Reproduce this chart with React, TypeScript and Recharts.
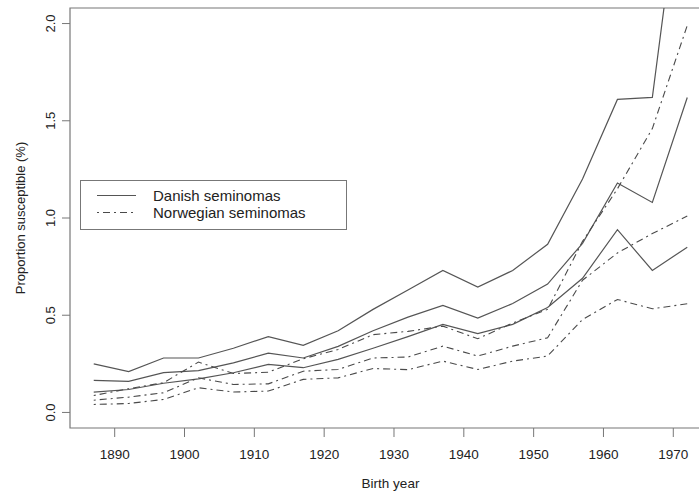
import React from "react";
import {
  LineChart,
  Line,
  XAxis,
  YAxis,
  ReferenceArea,
  Legend,
} from "recharts";

const years = [
  1887, 1892, 1897, 1902, 1907, 1912, 1917, 1922, 1927, 1932, 1937, 1942,
  1947, 1952, 1957, 1962, 1967, 1972,
];

// Danish seminomas: estimate with lower / upper bounds
const danishUpper = [
  0.25, 0.21, 0.28, 0.28, 0.33, 0.39, 0.345, 0.42, 0.53, 0.63, 0.73, 0.645,
  0.73, 0.865, 1.2, 1.61, 1.62, 3.0,
];
const danishMid = [
  0.165, 0.16, 0.205, 0.215, 0.255, 0.305, 0.28, 0.34, 0.42, 0.49, 0.55,
  0.485, 0.56, 0.66, 0.87, 1.18, 1.08, 1.62,
];
const danishLower = [
  0.105, 0.118, 0.15, 0.173, 0.204, 0.247, 0.23, 0.273, 0.33, 0.39, 0.453,
  0.405, 0.453, 0.54, 0.69, 0.94, 0.73, 0.85,
];

// Norwegian seminomas
const norUpper = [
  0.087, 0.122, 0.153, 0.259, 0.2, 0.207, 0.276, 0.324, 0.4, 0.417, 0.444,
  0.379, 0.46, 0.53, 0.88, 1.15, 1.46, 1.99,
];
const norMid = [
  0.063, 0.079, 0.101, 0.178, 0.144, 0.147, 0.212, 0.221, 0.28, 0.285, 0.341,
  0.29, 0.341, 0.384, 0.68, 0.82, 0.92, 1.01,
];
const norLower = [
  0.041, 0.046, 0.067, 0.127, 0.105, 0.11, 0.17, 0.178, 0.226, 0.22, 0.264,
  0.221, 0.264, 0.29, 0.478, 0.581, 0.533, 0.559,
];

const xTicks = [1890, 1900, 1910, 1920, 1930, 1940, 1950, 1960, 1970];
const yTicks = [0, 0.5, 1, 1.5, 2];

const X_DOMAIN: [number, number] = [1883.6, 1975.4];
const Y_DOMAIN: [number, number] = [-0.08, 2.08];

const data = years.map((year, i) => ({
  year,
  dUp: danishUpper[i],
  dMid: danishMid[i],
  dLow: danishLower[i],
  nUp: norUpper[i],
  nMid: norMid[i],
  nLow: norLower[i],
}));

const FONT = "'Liberation Sans', Arial, Helvetica, sans-serif";
const TEXT = "#222";
const FRAME = "#777";
const SOLID = "#555";
const DASHED = "#4a4a4a";
const DOTDASH = "2 4 7 4";

const legendDash: Record<string, string | undefined> = {
  "Danish seminomas": undefined,
  "Norwegian seminomas": DOTDASH,
};

function YTick(props: any) {
  const { x, y, payload } = props;
  const cx = x - 5;
  return (
    <text
      x={cx}
      y={y}
      transform={`rotate(-90 ${cx} ${y})`}
      textAnchor="middle"
      fontSize={13}
      fontFamily={FONT}
      fill={TEXT}
    >
      {Number(payload.value).toFixed(1)}
    </text>
  );
}

function YTitle(props: any) {
  const vb = props.viewBox || { x: 0, y: 8, height: 420 };
  const cx = vb.x + 24.5;
  const cy = vb.y + vb.height / 2;
  return (
    <text
      x={cx}
      y={cy}
      transform={`rotate(-90 ${cx} ${cy})`}
      textAnchor="middle"
      fontSize={13}
      fontFamily={FONT}
      fill={TEXT}
    >
      Proportion susceptible (%)
    </text>
  );
}

function LegendBox(props: any) {
  const items = (props.payload || []).filter((p: any) => p.type !== "none");
  return (
    <svg width={268} height={51} style={{ display: "block" }}>
      <rect x={0.5} y={0.5} width={266} height={49} fill="#fff" stroke={FRAME} />
      {items.map((item: any, i: number) => {
        const y = 15.5 + i * 17;
        return (
          <g key={item.value}>
            <line
              x1={17}
              x2={56}
              y1={y}
              y2={y}
              stroke={legendDash[item.value] ? DASHED : SOLID}
              strokeWidth={1.1}
              strokeDasharray={legendDash[item.value]}
            />
            <text
              x={73}
              y={y + 5}
              fontSize={15}
              fontFamily={FONT}
              fill={TEXT}
            >
              {item.value}
            </text>
          </g>
        );
      })}
    </svg>
  );
}

export default function App() {
  return (
    <div
      style={{
        position: "absolute",
        left: 0,
        top: 0,
        width: 699,
        height: 495,
        overflow: "hidden",
        background: "#fff",
      }}
    >
      <LineChart
        width={720}
        height={495}
        data={data}
        margin={{ top: 8, right: 9, bottom: 0, left: 0 }}
      >
        <XAxis
          dataKey="year"
          type="number"
          domain={X_DOMAIN}
          allowDataOverflow
          ticks={xTicks}
          interval={0}
          height={67}
          tickSize={9}
          tickMargin={12}
          axisLine={false}
          tickLine={{ stroke: FRAME }}
          tick={{ fontSize: 13.5, fill: TEXT, fontFamily: FONT }}
          label={{
            value: "Birth year",
            position: "insideBottom",
            offset: 7,
            fontSize: 13.5,
            fill: TEXT,
            fontFamily: FONT,
          }}
        />
        <YAxis
          type="number"
          domain={Y_DOMAIN}
          allowDataOverflow
          ticks={yTicks}
          interval={0}
          width={70}
          tickSize={8}
          tickMargin={2}
          axisLine={false}
          tickLine={{ stroke: FRAME }}
          tick={<YTick />}
          label={<YTitle />}
        />
        <ReferenceArea
          x1={X_DOMAIN[0]}
          x2={X_DOMAIN[1]}
          y1={Y_DOMAIN[0]}
          y2={Y_DOMAIN[1]}
          fill="none"
          stroke={FRAME}
          strokeWidth={1.2}
          ifOverflow="visible"
        />
        <Legend
          verticalAlign="middle"
          align="center"
          layout="horizontal"
          wrapperStyle={{ left: 80, top: 180, width: 268, height: 51 }}
          content={<LegendBox />}
        />
        <Line dataKey="dUp" stroke={SOLID} strokeWidth={1.2} dot={false} isAnimationActive={false} legendType="none" />
        <Line dataKey="dMid" name="Danish seminomas" stroke={SOLID} strokeWidth={1.2} dot={false} isAnimationActive={false} />
        <Line dataKey="dLow" stroke={SOLID} strokeWidth={1.2} dot={false} isAnimationActive={false} legendType="none" />
        <Line dataKey="nUp" stroke={DASHED} strokeWidth={1.1} strokeDasharray={DOTDASH} dot={false} isAnimationActive={false} legendType="none" />
        <Line dataKey="nMid" name="Norwegian seminomas" stroke={DASHED} strokeWidth={1.1} strokeDasharray={DOTDASH} dot={false} isAnimationActive={false} />
        <Line dataKey="nLow" stroke={DASHED} strokeWidth={1.1} strokeDasharray={DOTDASH} dot={false} isAnimationActive={false} legendType="none" />
      </LineChart>
    </div>
  );
}
